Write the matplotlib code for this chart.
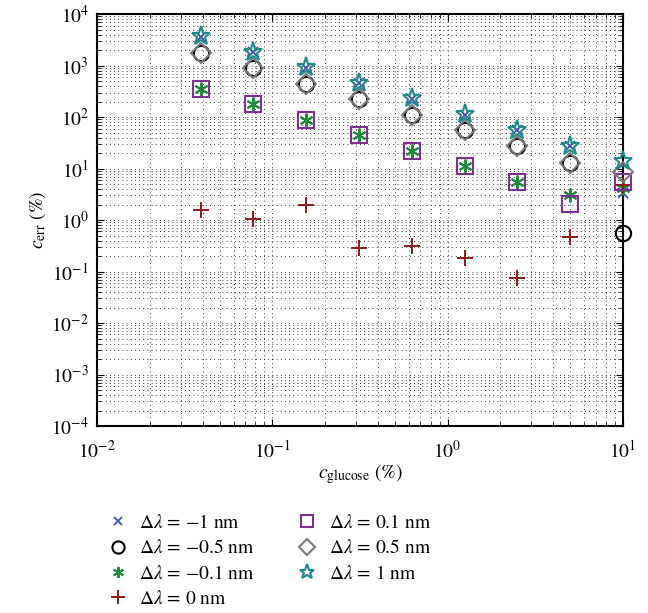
import numpy as np
import matplotlib.pyplot as plt

plt.rcParams['font.family'] = 'STIXGeneral'
plt.rcParams['mathtext.fontset'] = 'stix'

# glucose concentrations (%)
conc = [0.039, 0.078, 0.156, 0.3125, 0.625, 1.25, 2.5, 5, 10]

# relative error (%) for each wavelength shift
err_m1 = [3600, 1800, 900, 450, 225, 112, 56, 28, 3.4]
err_m05 = [1750, 880, 440, 220, 110, 55, 27, 13, 0.56]
err_m01 = [350, 176, 88, 44, 22, 11, 5.4, 3.0, 4.2]
err_0 = [1.6, 1.05, 1.95, 0.29, 0.31, 0.18, 0.074, 0.46, 4.8]
err_p01 = [350, 176, 88, 44, 22, 11, 5.4, 2.05, 5.6]
err_p05 = [1750, 880, 440, 220, 110, 55, 27, 13, 8.5]
err_p1 = [3700, 1850, 930, 460, 230, 115, 57, 28, 14]

labels = [r'$\Delta\lambda$ = $-$1 nm', r'$\Delta\lambda$ = $-$0.5 nm',
          r'$\Delta\lambda$ = $-$0.1 nm', r'$\Delta\lambda$ = 0 nm',
          r'$\Delta\lambda$ = 0.1 nm', r'$\Delta\lambda$ = 0.5 nm',
          r'$\Delta\lambda$ = 1 nm']

fig = plt.figure(figsize=(6.48, 6.13), dpi=100)
ax = fig.add_axes([0.150, 0.305, 0.811, 0.672])

kw = dict(ls='none', clip_on=False, zorder=3)
ax.plot(conc, err_m1, marker='x', color='#3a52a8', ms=7, mew=1.3, label=labels[0], **kw)
ax.plot(conc, err_m05, marker='o', color='black', mfc='none', ms=11, mew=1.5, label=labels[1], **kw)
ax.plot(conc, err_m01, marker=(6, 2, 0), color='#1d8a3c', ms=10, mew=1.4, label=labels[2], **kw)
ax.plot(conc, err_0, marker='+', color='#8b1a1a', ms=12, mew=1.4, label=labels[3], **kw)
ax.plot(conc, err_p01, marker='s', color='#7f2f8f', mfc='none', ms=11, mew=1.5, label=labels[4], **kw)
ax.plot(conc, err_p05, marker='D', color='#7a7a7a', mfc='none', ms=10, mew=1.5, label=labels[5], **kw)
ax.plot(conc, err_p1, marker='*', color='#1f8a8a', mfc='none', ms=14, mew=1.5, label=labels[6], **kw)

ax.set_xscale('log')
ax.set_yscale('log')
ax.set_xlim(1e-2, 1e1)
ax.set_ylim(1e-4, 1e4)
ax.set_yticks([10.0**k for k in range(-4, 5)])
ax.grid(True, which='both', ls=(0, (1, 4)), color='black', lw=0.6)
ax.tick_params(which='both', direction='in', top=True, right=True, labelsize=14)
ax.tick_params(which='major', length=5)
ax.tick_params(which='minor', length=3)
ax.tick_params(axis='x', pad=10)
ax.tick_params(axis='y', pad=6)
for s in ax.spines.values():
    s.set_linewidth(1.5)

ax.set_xlabel(r'$c_{\rm glucose}$ (%)', fontsize=14, labelpad=0)
ax.set_ylabel(r'$c_{\rm err}$ (%)', fontsize=14, labelpad=2)

handles, labs = ax.get_legend_handles_labels()
fig.legend(handles, labs, loc='upper left', bbox_to_anchor=(0.14, 0.19), ncol=2,
           frameon=False, fontsize=14, handlelength=1.0, handletextpad=0.6,
           labelspacing=0.38, columnspacing=2.2, markerscale=0.8)

fig.savefig('out.png', dpi=100)
